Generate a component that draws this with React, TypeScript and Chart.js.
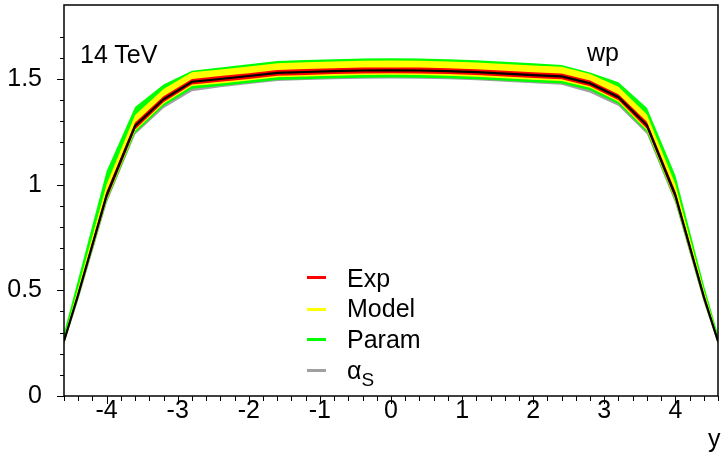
import React, { useEffect, useRef } from "react";
import { Chart, registerables } from "chart.js";

Chart.register(...registerables);

// rapidity grid
const rapidity = [-4.6, -4.4, -4.0, -3.6, -3.2, -2.8, -2.4, -2.0, -1.6, -1.2, -0.8, -0.4, 0, 0.4, 0.8, 1.2, 1.6, 2.0, 2.4, 2.8, 3.2, 3.6, 4.0, 4.4, 4.6];
// central prediction (W+ dsigma/dy, 14 TeV)
const central = [0.26, 0.48, 0.95, 1.278, 1.404, 1.487, 1.5, 1.514, 1.529, 1.533, 1.537, 1.54, 1.541, 1.54, 1.537, 1.532, 1.525, 1.518, 1.512, 1.479, 1.414, 1.281, 0.95, 0.47, 0.26];
// relative uncertainties in percent
const expErr = [3.5, 3, 2, 1.3, 1.0, 0.9, 0.9, 0.9, 0.9, 0.9, 0.9, 0.9, 0.9, 0.9, 0.9, 0.9, 0.9, 0.9, 0.9, 0.9, 1.0, 1.3, 2, 3, 3.5];
const modelUp = [7, 7, 5.5, 4, 3.5, 3, 3, 3, 3, 3, 3, 3, 3, 3, 3, 3, 3, 3, 3, 3, 3.5, 4, 5.5, 7, 7];
const modelDn = [4, 3.5, 2.5, 1.8, 1.5, 1.4, 1.4, 1.4, 1.4, 1.4, 1.4, 1.4, 1.4, 1.4, 1.4, 1.4, 1.4, 1.4, 1.4, 1.4, 1.5, 1.8, 2.5, 3.5, 4];
const paramUp = [15, 15, 12, 7, 5, 3.5, 3.6, 3.7, 3.7, 3.7, 3.7, 3.7, 3.7, 3.7, 3.7, 3.7, 3.7, 3.7, 3.6, 3.5, 5, 6.5, 10, 12, 12];
const paramDn = [5, 4.5, 3.2, 2.6, 2.3, 2.2, 2.2, 2.2, 2.2, 2.2, 2.2, 2.2, 2.2, 2.2, 2.2, 2.2, 2.2, 2.2, 2.2, 2.2, 2.3, 2.6, 3.2, 4.5, 5];
const alphasUp = [1, 1, 1, 1, 1, 1, 1, 1, 1, 1, 1, 1, 1, 1, 1, 1, 1, 1, 1, 1, 1, 1, 1, 1, 1];
const alphasDn = [5.5, 5.5, 4, 3.2, 3, 3, 2.6, 2.5, 2.5, 2.5, 2.5, 2.5, 2.5, 2.5, 2.5, 2.5, 2.5, 2.5, 2.6, 3, 3, 3.2, 4, 5.5, 5.5];

const xMin = -4.6;
const xMax = 4.6;
const yMin = 0;
const yMax = 1.85;

const legendItems = [
  { label: "Exp", color: "#ff0000" },
  { label: "Model", color: "#ffff00" },
  { label: "Param", color: "#00ff00" },
  { label: "alphaS", color: "#a0a0a0" },
];

const FONT = "'Liberation Sans', Arial, Helvetica, sans-serif";

const framePlugin = {
  id: "frame",
  afterDraw(chart: any) {
    const { ctx, chartArea: a, scales } = chart;
    ctx.save();
    ctx.strokeStyle = "#000";
    ctx.lineWidth = 1.5;
    ctx.strokeRect(a.left, a.top, a.right - a.left, a.bottom - a.top);
    ctx.lineWidth = 1;
    ctx.beginPath();
    for (const t of scales.x.ticks) {
      const v = t.value;
      if (Math.abs(v * 5 - Math.round(v * 5)) > 1e-6) continue;
      const major = Math.abs(v - Math.round(v)) < 1e-6;
      const px = Math.round(scales.x.getPixelForValue(v)) + 0.5;
      ctx.moveTo(px, a.bottom);
      ctx.lineTo(px, a.bottom + (major ? 8 : 5));
    }
    for (const t of scales.y.ticks) {
      const v = t.value;
      if (Math.abs(v * 10 - Math.round(v * 10)) > 1e-6) continue;
      const major = Math.abs(v * 2 - Math.round(v * 2)) < 1e-6;
      const py = Math.round(scales.y.getPixelForValue(v)) + 0.5;
      ctx.moveTo(a.left, py);
      ctx.lineTo(a.left - (major ? 7 : 4), py);
    }
    ctx.stroke();
    ctx.restore();
  },
};

export default function App() {
  const ref = useRef<HTMLCanvasElement>(null);

  useEffect(() => {
    const band = (rel: number[], sign: number) =>
      rapidity.map((x, i) => ({ x, y: central[i] * (1 + (sign * rel[i]) / 100) }));
    const pair = (name: string, color: string, up: number[], dn: number[]) => [
      { label: name + " up", data: band(up, 1), borderWidth: 0, pointRadius: 0, backgroundColor: color, borderColor: color, fill: "+1", tension: 0 },
      { label: name + " dn", data: band(dn, -1), borderWidth: 0, pointRadius: 0, borderColor: color, fill: false, tension: 0 },
    ];
    const datasets: any[] = [
      {
        label: "central",
        data: rapidity.map((x, i) => ({ x, y: central[i] })),
        borderColor: "#000",
        borderWidth: 2.2,
        pointRadius: 0,
        fill: false,
        tension: 0,
      },
      ...pair("Exp", "#ff0000", expErr, expErr),
      ...pair("Model", "#ffff00", modelUp, modelDn),
      ...pair("Param", "#00ff00", paramUp, paramDn),
      ...pair("alphaS", "#a0a0a0", alphasUp, alphasDn),
    ];

    const chart = new Chart(ref.current!, {
      type: "line",
      data: { datasets },
      options: {
        animation: false,
        responsive: false,
        devicePixelRatio: 1,
        layout: { padding: { top: 5, right: 3, left: 0, bottom: 0 } },
        plugins: { legend: { display: false }, tooltip: { enabled: false }, filler: { propagate: false } },
        scales: {
          x: {
            type: "linear",
            min: xMin,
            max: xMax,
            grid: { display: false, drawTicks: false },
            border: { display: false },
            afterFit: (s: any) => {
              s.height = 58;
              s.paddingLeft = 0;
              s.paddingRight = 0;
              s.paddingTop = 0;
              s.paddingBottom = 0;
            },
            ticks: {
              stepSize: 0.2,
              autoSkip: false,
              maxRotation: 0,
              padding: 0,
              color: "#000",
              font: { size: 25, family: FONT },
              callback: (v: any) => (Math.abs(v - Math.round(v)) < 1e-6 ? String(Math.round(v)) : ""),
            },
          },
          y: {
            type: "linear",
            min: yMin,
            max: yMax,
            grid: { display: false, drawTicks: false },
            border: { display: false },
            afterFit: (s: any) => {
              s.width = 64;
              s.paddingLeft = 0;
              s.paddingRight = 0;
              s.paddingTop = 0;
              s.paddingBottom = 0;
            },
            ticks: {
              stepSize: 0.1,
              autoSkip: false,
              padding: 22,
              color: "#000",
              font: { size: 25, family: FONT },
              callback: (v: any) =>
                Math.abs(v * 2 - Math.round(v * 2)) < 1e-6 ? String(Math.round(v * 2) / 2) : "",
            },
          },
        },
      },
      plugins: [framePlugin],
    });
    return () => chart.destroy();
  }, []);

  const text = (content: React.ReactNode, left: number, top: number) => (
    <div
      style={{
        position: "absolute",
        left,
        top,
        fontFamily: FONT,
        fontSize: 25,
        lineHeight: "25px",
        color: "#000",
        whiteSpace: "nowrap",
      }}
    >
      {content}
    </div>
  );

  const legendTops = [266, 296, 327, 358];
  const swatchY = [277, 309, 339, 370];

  return (
    <div style={{ position: "fixed", left: 0, top: 0, width: 721, height: 454, background: "#fff" }}>
      <canvas ref={ref} width={721} height={454} style={{ display: "block", width: 721, height: 454 }} />
      {text("14 TeV", 80, 42)}
      {text("wp", 587, 40)}
      {text("y", 708, 426)}
      {legendItems.map((it, i) => (
        <React.Fragment key={it.label}>
          <div
            style={{
              position: "absolute",
              left: 307,
              top: swatchY[i] - 1.5,
              width: 19,
              height: 3,
              background: it.color,
            }}
          />
          {text(
            it.label === "alphaS" ? (
              <span>
                α<sub style={{ fontSize: 19, verticalAlign: "-7px", lineHeight: 0 }}>S</sub>
              </span>
            ) : (
              it.label
            ),
            347,
            legendTops[i]
          )}
        </React.Fragment>
      ))}
    </div>
  );
}
